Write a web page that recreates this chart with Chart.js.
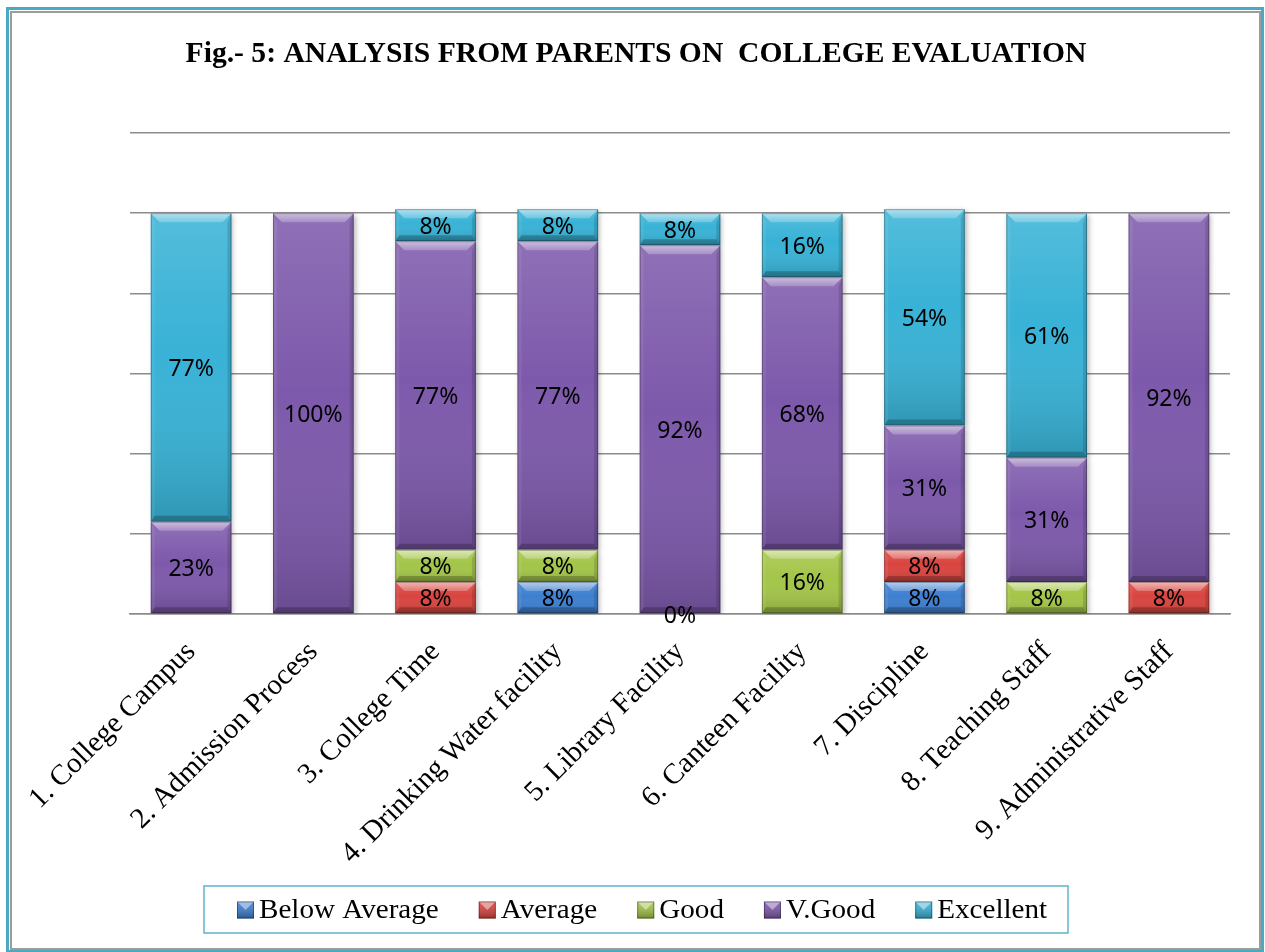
<!DOCTYPE html>
<html><head><meta charset="utf-8">
<script src="https://cdn.jsdelivr.net/npm/chart.js@4"></script>
<style>
html,body{margin:0;padding:0;background:#fff;width:1265px;height:952px;overflow:hidden;}
#frameOuter{position:absolute;left:6px;top:7px;width:1258px;height:946px;box-sizing:border-box;border:3px solid #4aaac4;}
#frameInner{position:absolute;left:10px;top:11px;width:1251px;height:939px;box-sizing:border-box;border:2px solid #9c9c9c;}
#wrap{position:absolute;left:0;top:0;width:1265px;height:952px;}
</style></head><body>
<div id="frameOuter"></div><div id="frameInner"></div>
<div id="wrap"><canvas id="c" width="1265" height="952"></canvas></div>
<script>
// ---- data ----
const titleText = 'Fig.- 5: ANALYSIS FROM PARENTS ON  COLLEGE EVALUATION';
const categories = ['1. College Campus','2. Admission Process','3. College Time','4. Drinking Water facility','5. Library Facility','6. Canteen Facility','7. Discipline','8. Teaching Staff','9. Administrative Staff'];
const seriesNames = ['Below Average','Average','Good','V.Good','Excellent'];
const belowAverage = [null, null, null, 8, 0, null, 8, null, null];
const average      = [null, null, 8, null, null, null, 8, null, 8];
const good         = [null, null, 8, 8, null, 16, null, 8, null];
const vGood        = [23, 100, 77, 77, 92, 68, 31, 31, 92];
const excellent    = [77, null, 8, 8, 8, 16, 54, 61, null];
const yTicks = [0, 20, 40, 60, 80, 100, 120];

const seriesValues = [belowAverage, average, good, vGood, excellent];
const seriesColors = ['#3d7fd0', '#d9443f', '#a3c548', '#7d59ab', '#38b2d6'];

function poly(ctx, pts, fill) {
  ctx.beginPath();
  ctx.moveTo(pts[0][0], pts[0][1]);
  for (let i = 1; i < pts.length; i++) ctx.lineTo(pts[i][0], pts[i][1]);
  ctx.closePath();
  ctx.fillStyle = fill; ctx.fill();
}

const bevelPlugin = {
  id: 'bevel',
  beforeDatasetDraw(chart) {
    const ctx = chart.ctx; ctx.save();
    ctx.shadowColor = 'rgba(0,0,0,0.28)'; ctx.shadowBlur = 5; ctx.shadowOffsetX = 2; ctx.shadowOffsetY = 2;
  },
  afterDatasetDraw(chart, args) {
    const ctx = chart.ctx; ctx.restore();
    const data = chart.data.datasets[args.index].data;
    ctx.save();
    args.meta.data.forEach((el, j) => {
      const v = data[j];
      if (v === null || v === undefined || v === 0) return;
      const {x, y, base, width} = el.getProps(['x','y','base','width'], true);
      const l = x - width / 2, r = x + width / 2, t = Math.min(y, base), b = Math.max(y, base);
      const h = b - t; if (h < 1) return;
      let g = ctx.createLinearGradient(0, t, 0, b);
      g.addColorStop(0, 'rgba(255,255,255,0.14)');
      g.addColorStop(0.45, 'rgba(255,255,255,0)');
      g.addColorStop(1, 'rgba(0,0,0,0.16)');
      ctx.fillStyle = g; ctx.fillRect(l, t, width, h);
      const bt = Math.min(9, h / 3), bs = 4, bb = Math.min(6, h / 4);
      poly(ctx, [[l, t], [l + bs, t + bt], [l + bs, b - bb], [l, b]], 'rgba(255,255,255,0.07)');
      poly(ctx, [[r, t], [r, b], [r - bs, b - bb], [r - bs, t + bt]], 'rgba(0,0,0,0.13)');
      poly(ctx, [[l, b], [l + bs, b - bb], [r - bs, b - bb], [r, b]], 'rgba(0,0,0,0.22)');
      g = ctx.createLinearGradient(0, t, 0, t + bt);
      g.addColorStop(0, 'rgba(255,255,255,0.55)');
      g.addColorStop(1, 'rgba(255,255,255,0.22)');
      poly(ctx, [[l, t], [r, t], [r - bt, t + bt], [l + bt, t + bt]], g);
      ctx.strokeStyle = 'rgba(0,0,0,0.28)'; ctx.lineWidth = 1;
      ctx.strokeRect(l + 0.5, t + 0.5, width - 1, h - 1);
    });
    ctx.restore();
  }
};

const valueLabels = {
  id: 'valueLabels',
  afterDatasetsDraw(chart) {
    const ctx = chart.ctx;
    ctx.save();
    ctx.font = '23px "Noto Sans"';
    ctx.fillStyle = '#000';
    ctx.textAlign = 'center'; ctx.textBaseline = 'middle';
    chart.data.datasets.forEach((ds, i) => {
      const meta = chart.getDatasetMeta(i);
      meta.data.forEach((el, j) => {
        const v = ds.data[j];
        if (v === null || v === undefined) return;
        const {x, y, base} = el.getProps(['x','y','base'], true);
        ctx.fillText(v + '%', x, (y + base) / 2 + 2);
      });
    });
    ctx.restore();
  }
};

const boxLegend = {
  id: 'boxLegend',
  afterDraw(chart) {
    const ctx = chart.ctx;
    const bx = 204, by = 886, bw = 864, bh = 47;
    const sx = 1.04, mk = 17, mgap = 5, gap = 40, startX = 237;
    ctx.save();
    ctx.strokeStyle = '#62b3cb'; ctx.lineWidth = 1.5;
    ctx.strokeRect(bx, by, bw, bh);
    ctx.font = '28px "Liberation Serif"';
    const widths = chart.data.datasets.map(d => ctx.measureText(d.label).width * sx);
    let cx = startX;
    const baseY = 918;
    chart.data.datasets.forEach((d, i) => {
      const mx = cx, my = baseY - 16.5;
      ctx.fillStyle = d.backgroundColor; ctx.fillRect(mx, my, mk, mk);
      let g = ctx.createLinearGradient(0, my, 0, my + mk);
      g.addColorStop(0, 'rgba(255,255,255,0.1)'); g.addColorStop(1, 'rgba(0,0,0,0.3)');
      ctx.fillStyle = g; ctx.fillRect(mx, my, mk, mk);
      poly(ctx, [[mx, my], [mx + mk, my], [mx + mk / 2, my + mk / 2]], 'rgba(255,255,255,0.45)');
      ctx.strokeStyle = 'rgba(0,0,0,0.35)'; ctx.lineWidth = 1;
      ctx.strokeRect(mx + 0.5, my + 0.5, mk - 1, mk - 1);
      ctx.save();
      ctx.translate(cx + mk + mgap, baseY);
      ctx.scale(sx, 1);
      ctx.fillStyle = '#000'; ctx.textBaseline = 'alphabetic'; ctx.textAlign = 'left';
      ctx.fillText(d.label, 0, 0);
      ctx.restore();
      cx += mk + mgap + widths[i] + gap;
    });
    ctx.restore();
  }
};

const datasets = seriesNames.map((name, i) => ({
  label: name,
  data: seriesValues[i],
  backgroundColor: seriesColors[i],
  borderWidth: 0,
  barPercentage: 0.66,
  categoryPercentage: 1.0
}));

new Chart(document.getElementById('c'), {
  type: 'bar',
  data: { labels: categories, datasets },
  plugins: [bevelPlugin, valueLabels, boxLegend],
  options: {
    responsive: false,
    animation: false,
    layout: { padding: { top: 10, left: 42, right: 35, bottom: 20 } },
    plugins: {
      legend: { display: false },
      tooltip: { enabled: false },
      title: {
        display: true, text: titleText, color: '#000',
        font: { family: '"Liberation Serif"', size: 29.6, weight: 'bold', lineHeight: 1.2 },
        padding: { top: 27, bottom: 60.5 }
      }
    },
    scales: {
      x: {
        stacked: true,
        grid: { display: false, drawTicks: false },
        border: { display: true, color: '#8c8c8c', width: 1.5 },
        ticks: {
          color: '#000', autoSkip: false, minRotation: 45, maxRotation: 45, padding: 21,
          font: { family: '"Liberation Serif"', size: 29 }
        },
        afterFit(s) { s.height = 318; }
      },
      y: {
        stacked: true, min: 0, max: 120,
        afterBuildTicks(s) { s.ticks = yTicks.map(v => ({ value: v })); },
        ticks: { display: false },
        grid: { color: '#8c8c8c', lineWidth: 1.5, drawTicks: false },
        border: { display: false },
        afterFit(s) { s.width = 88; }
      }
    }
  }
});
</script>
</body></html>
